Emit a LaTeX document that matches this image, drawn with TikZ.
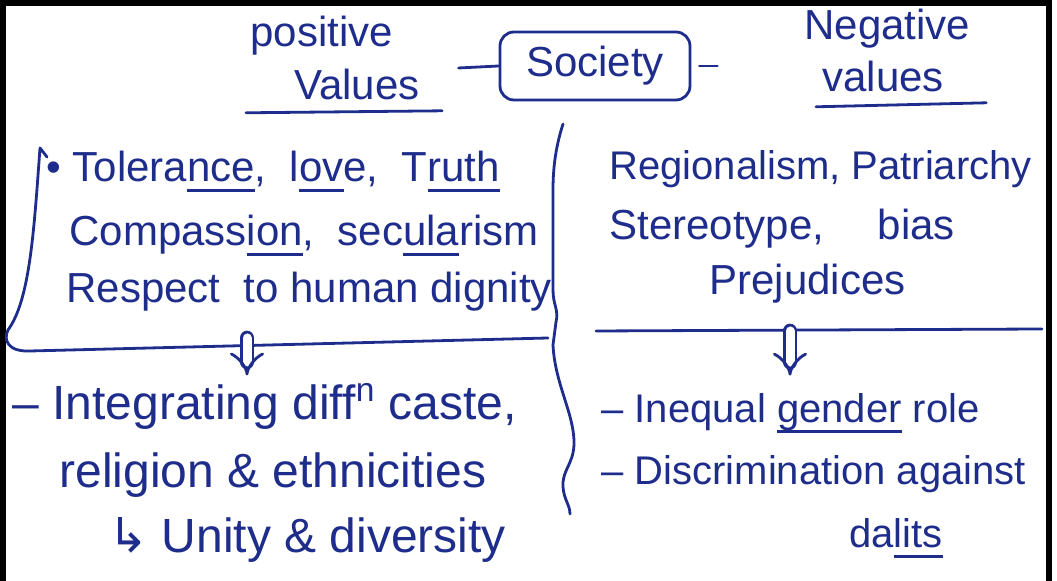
\documentclass[tikz,border=0pt]{standalone}
\usepackage{fontspec}
\setmainfont{Liberation Sans}
\newfontfamily\arrowfont{DejaVu Sans}
\usetikzlibrary{positioning, arrows.meta}
\definecolor{inkblue}{RGB}{30,45,140}
\newcommand\notefont{\fontsize{21pt}{25pt}\selectfont}
\newcommand\bignotefont{\fontsize{24pt}{28pt}\selectfont}
\newcommand\smallnotefont{\fontsize{20pt}{24pt}\selectfont}
% hand underline under part of a word
\newcommand\handline[1]{\setbox0\hbox{#1}\makebox[0pt][l]{\raisebox{-5pt}{\rule{\wd0}{1.3pt}}}\box0\relax}

\begin{document}
\begin{tikzpicture}[x=0.5pt, y=-0.5pt,
  ink/.style={draw=inkblue, line width=1.4pt, line cap=round, line join=round},
  note/.style={text=inkblue, font=\notefont, inner sep=2pt, anchor=base west},
  bignote/.style={note, font=\bignotefont},
  smallnote/.style={note, font=\smallnotefont},
  socbox/.style={ink, text=inkblue, font=\notefont, rounded corners=7pt,
    minimum width=95pt, minimum height=34pt},
  thenarrow/.style={ink, double, double distance=4.5pt, -{Implies[length=7pt, width=15pt]}, shorten >=2pt}]
  \useasboundingbox (0,0) rectangle (1057,581);
  \fill[white] (0,0) rectangle (1057,581);
  % page frame
  \draw[line width=3pt] (2.5,581) -- (2.5,3) -- (1049,3) -- (1049,581);

  % heading
  \node[note] (pos) at (246,47) {positive};
  \node[note] (posv) at (290,100) {Values};
  \node[socbox] (soc) at (595,66) {Society};
  \node[note] (neg) at (800,40) {Negative};
  \node[note] (negv) at (818,92) {values};
  \draw[ink] (soc.west) -- ++(-40,2);
  \draw[ink] ([xshift=4pt]soc.east) -- ++(18,0);
  \draw[ink] ([xshift=-22pt,yshift=-4pt]posv.south west) -- ([xshift=9pt,yshift=-3pt]posv.south east);
  \draw[ink] ([xshift=-1pt,yshift=-5pt]negv.south west) -- ([xshift=19pt,yshift=-3pt]negv.south east);

  % positive values
  \node[note] (tol) at (42,182) {• Tolera\handline{nce}, \ l\handline{ov}e, \ T\handline{ruth}};
  \node[note] (comp) at (65,246) {Compass\handline{ion}, \ sec\handline{ula}rism};
  \node[note] (resp) at (62,303) {Respect \ to human dignity};
  \draw[ink] (47,157) -- (40,148) .. controls (34,230) and (30,300) .. (8,330)
    .. controls (3,340) and (8,352) .. (30,351) -- (548,338);

  % negative values
  \node[smallnote] (reg) at (605,180) {Regionalism, Patriarchy};
  \node[note] (ster) at (605,240) {Stereotype, \quad bias};
  \node[note] (prej) at (705,295) {Prejudices};
  \draw[ink] (596,331) -- (1042,329);

  % divider
  \draw[ink] (563,124) .. controls (558,140) and (553,160) .. (553,190) -- (553,290)
    .. controls (553,305) and (559,310) .. (556,322) -- (553,345)
    .. controls (555,385) and (575,415) .. (574,445)
    .. controls (573,465) and (562,470) .. (563,487)
    .. controls (564,500) and (570,505) .. (570,514);

  % outcomes
  \node[bignote] (integ) at (8,420) {– Integrating diff\textsuperscript{n} caste,};
  \node[bignote] (relig) at (55,488) {religion \& ethnicities};
  \node[bignote] (unity) at (104,553) {{\arrowfont ↳} Unity \& diversity};
  \node[smallnote] (ineq) at (597,423) {– Inequal \handline{gender} role};
  \node[smallnote] (disc) at (597,485) {– Discrimination against};
  \node[smallnote] (dal) at (845,548) {da\handline{lits}};

  \coordinate (lfoot) at (247,338);
  \coordinate (rfoot) at (790,331);
  \draw[thenarrow] (lfoot) -- (lfoot |- integ.north);
  \draw[thenarrow, shorten >=7pt] (rfoot) -- (rfoot |- ineq.north);
\end{tikzpicture}
\end{document}
